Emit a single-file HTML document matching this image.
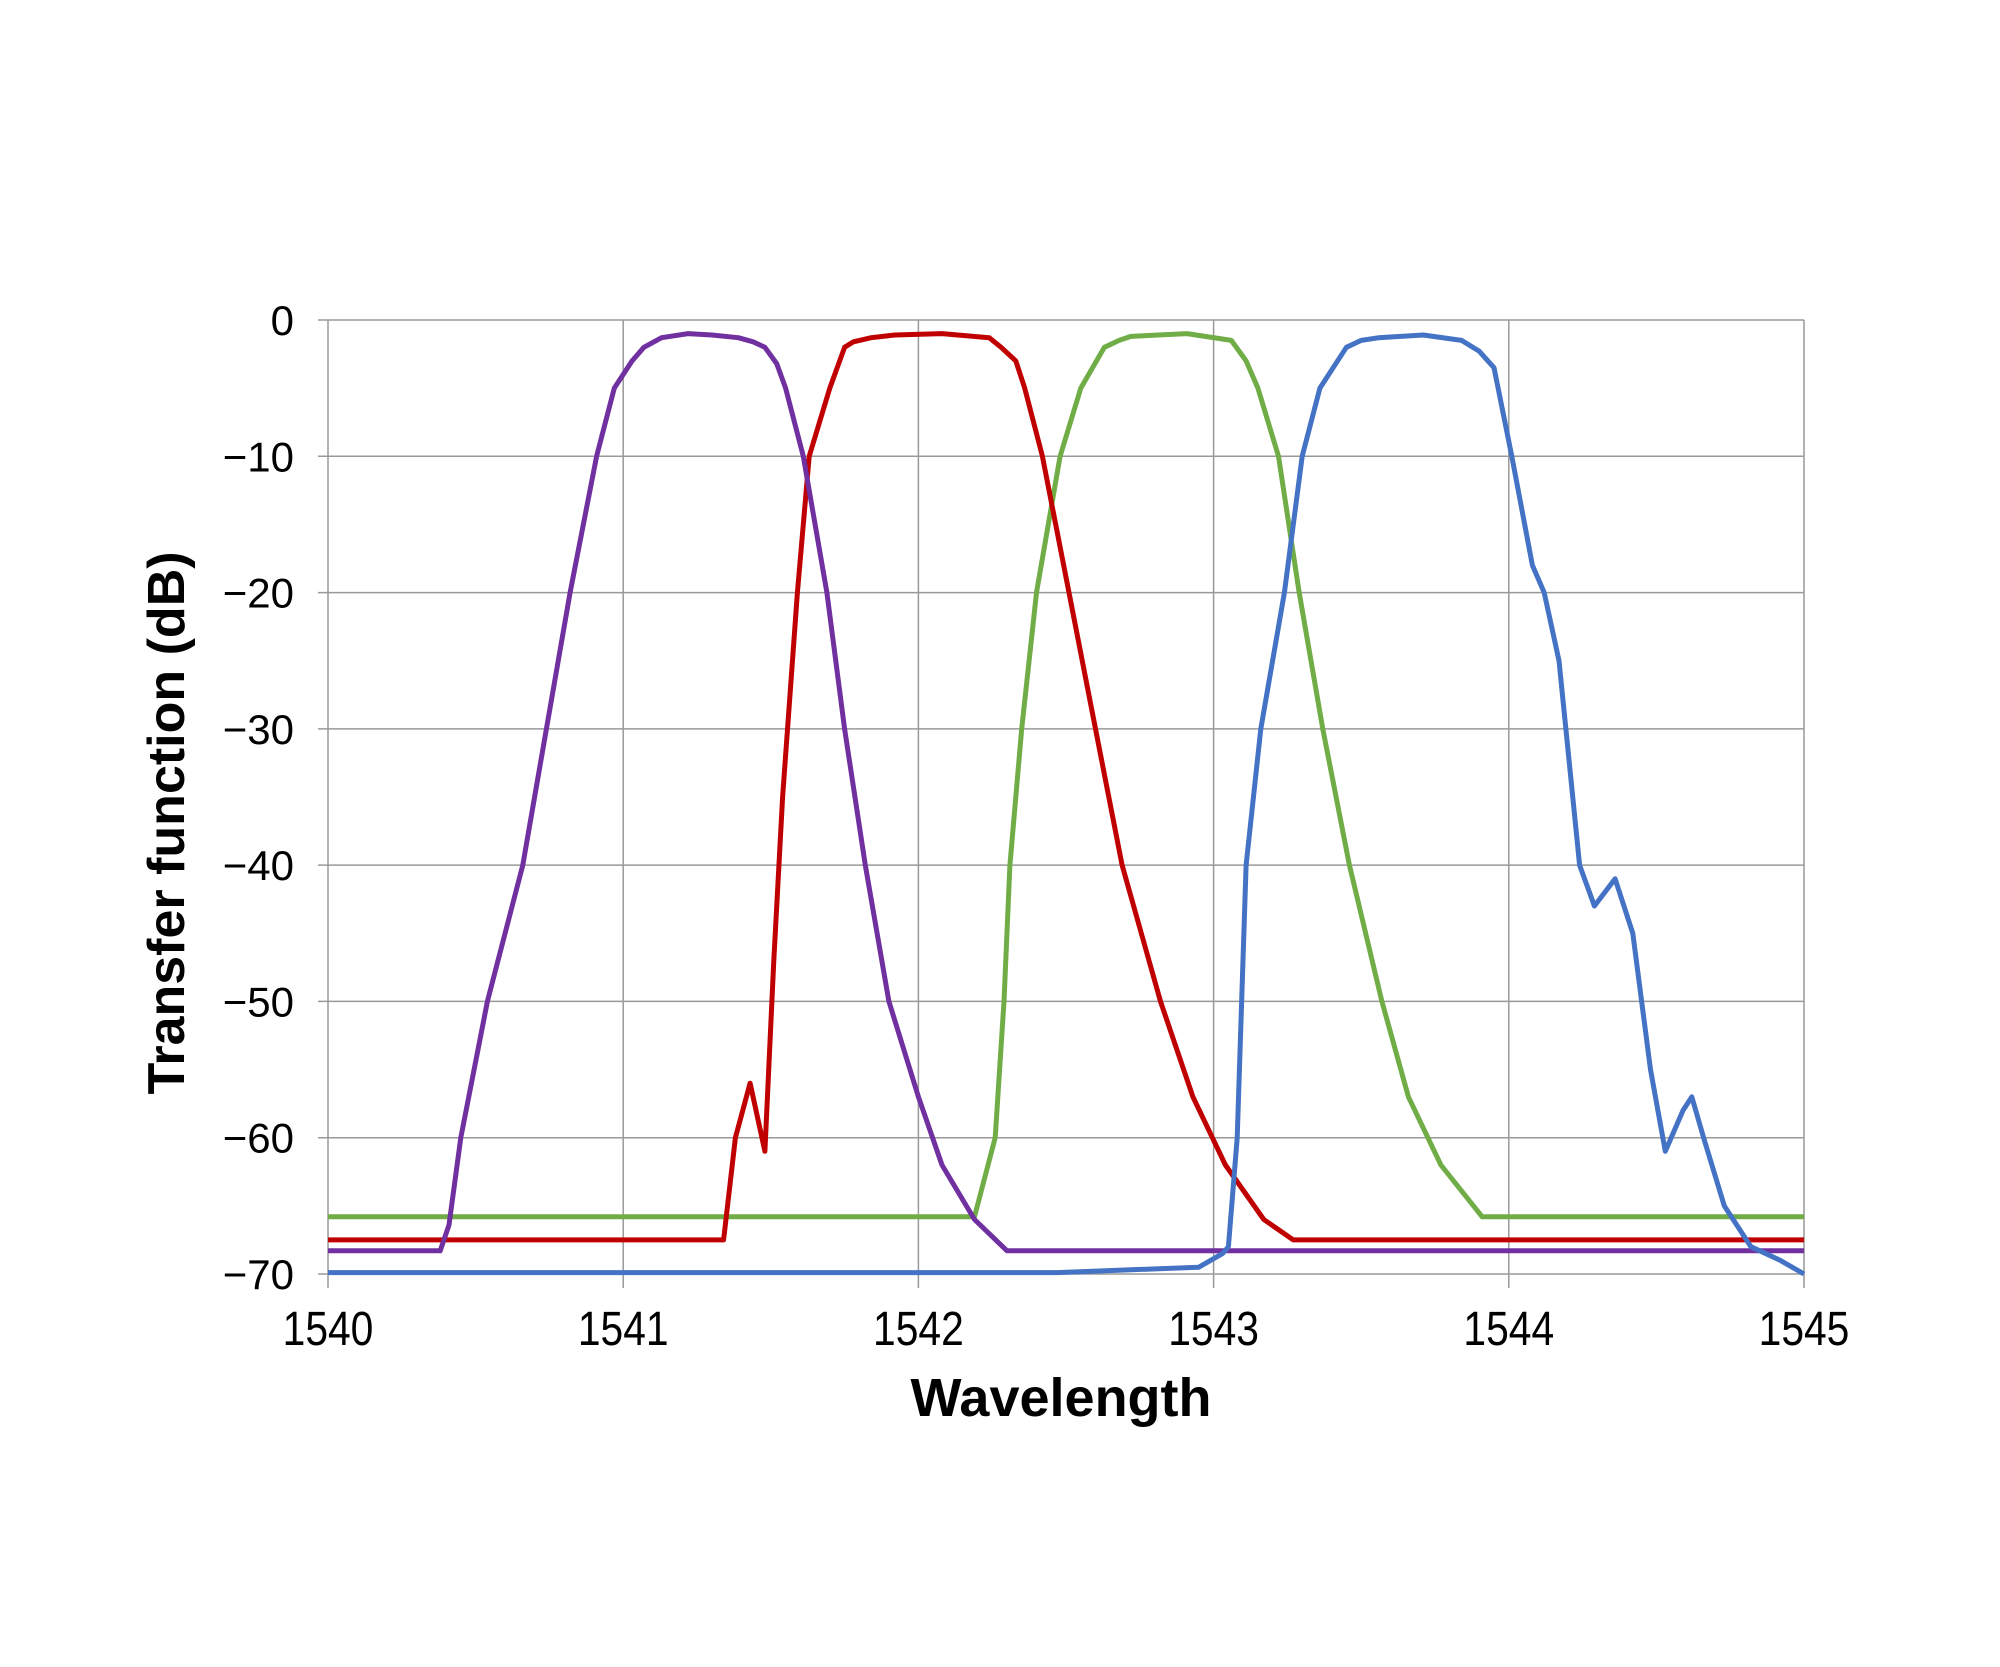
<!DOCTYPE html>
<html><head><meta charset="utf-8"><style>
body{margin:0;background:#fff}
svg{display:block}
</style></head><body>
<svg id="chart" width="2000" height="1667" viewBox="0 0 2000 1667" xmlns="http://www.w3.org/2000/svg">
<rect width="2000" height="1667" fill="#fff"/>
<g id="grid"></g>
<g id="series"></g>
<g id="ticks"></g>
<text x="1061" y="1416" text-anchor="middle" font-family="Liberation Sans, sans-serif" font-weight="bold" font-size="54">Wavelength</text>
<text transform="translate(184,823) rotate(-90)" text-anchor="middle" font-family="Liberation Sans, sans-serif" font-weight="bold" font-size="52">Transfer function (dB)</text>
</svg>
<script>
const xTicks=[1540,1541,1542,1543,1544,1545];
const yTicks=[0,-10,-20,-30,-40,-50,-60,-70];
const purpleX=[1540,1540.38,1540.41,1540.45,1540.54,1540.66,1540.74,1540.82,1540.91,1540.97,1541.03,1541.07,1541.13,1541.22,1541.30,1541.39,1541.44,1541.48,1541.52,1541.55,1541.61,1541.69,1541.75,1541.82,1541.90,1542.0,1542.08,1542.19,1542.30,1545];
const purpleY=[-68.3,-68.3,-66.4,-60,-50,-40,-30,-20,-10,-5,-3,-2,-1.3,-1,-1.1,-1.3,-1.6,-2,-3.2,-5,-10,-20,-30,-40,-50,-57,-62,-66,-68.3,-68.3];
const redX=[1540,1541.34,1541.38,1541.43,1541.48,1541.51,1541.54,1541.59,1541.63,1541.70,1541.75,1541.78,1541.84,1541.92,1542.08,1542.24,1542.28,1542.33,1542.36,1542.42,1542.51,1542.60,1542.69,1542.82,1542.93,1543.04,1543.17,1543.27,1545];
const redY=[-67.5,-67.5,-60,-56,-61,-47,-35,-20,-10,-5,-2,-1.6,-1.3,-1.1,-1,-1.3,-2,-3,-5,-10,-20,-30,-40,-50,-57,-62,-66,-67.5,-67.5];
const greenX=[1540,1542.19,1542.26,1542.29,1542.31,1542.35,1542.40,1542.48,1542.55,1542.63,1542.68,1542.72,1542.91,1543.06,1543.11,1543.15,1543.22,1543.29,1543.37,1543.46,1543.57,1543.66,1543.77,1543.91,1545];
const greenY=[-65.8,-65.8,-60,-50,-40,-30,-20,-10,-5,-2,-1.5,-1.2,-1,-1.5,-3,-5,-10,-20,-30,-40,-50,-57,-62,-65.8,-65.8];
const blueX=[1540,1542.47,1542.95,1543.03,1543.05,1543.08,1543.11,1543.16,1543.20,1543.24,1543.30,1543.36,1543.45,1543.50,1543.56,1543.71,1543.84,1543.90,1543.95,1544.01,1544.08,1544.12,1544.17,1544.24,1544.29,1544.36,1544.42,1544.48,1544.53,1544.59,1544.62,1544.66,1544.73,1544.82,1544.92,1545];
const blueY=[-69.9,-69.9,-69.5,-68.5,-68,-60,-40,-30,-25,-20,-10,-5,-2,-1.5,-1.3,-1.1,-1.5,-2.3,-3.5,-10,-18,-20,-25,-40,-43,-41,-45,-55,-61,-58,-57,-60,-65,-68,-69,-70];

const NS='http://www.w3.org/2000/svg';
const X0=328,X1=1804,Y0=320,Y1=1274;
function sx(v){return X0+(v-1540)/5*(X1-X0);}
function sy(v){return Y0+(0-v)/70*(Y1-Y0);}
function mk(tag,attrs,parent){const e=document.createElementNS(NS,tag);for(const k in attrs)e.setAttribute(k,attrs[k]);parent.appendChild(e);return e;}
const grid=document.getElementById('grid'),ticks=document.getElementById('ticks'),series=document.getElementById('series');
yTicks.forEach(v=>{
  const l=mk('line',{x1:X0-10,x2:X1,y1:sy(v),y2:sy(v),stroke:'#999','stroke-width':1.5},grid);
  
  
  const t=mk('text',{x:294,y:sy(v)+15,'text-anchor':'end','font-family':'Liberation Sans, sans-serif','font-size':42},ticks);
  t.textContent=(v<0?'\u2212'+(-v):String(v));
  
  
});
xTicks.forEach(v=>{
  const l=mk('line',{x1:sx(v),x2:sx(v),y1:Y0,y2:Y1+14,stroke:'#999','stroke-width':1.5},grid);
  
  
  const t=mk('text',{x:0,y:0,'text-anchor':'middle','font-family':'Liberation Sans, sans-serif','font-size':48,transform:'translate('+sx(v)+',1345) scale(0.85,1)'},ticks);
  t.textContent=String(v);
  
  
});
const S=[['green',greenX,greenY,'#70ad47'],['red',redX,redY,'#c00000'],['purple',purpleX,purpleY,'#7030a0'],['blue',blueX,blueY,'#4472c4']];
S.forEach(([n,xs,ys,c])=>{
  const d=xs.map((x,i)=>(i?'L':'M')+sx(x).toFixed(1)+','+sy(ys[i]).toFixed(1)).join('');
  const p=mk('path',{d:d,fill:'none',stroke:c,'stroke-width':5,'stroke-linejoin':'round'},series);
  
  
});
</script>
</body></html>
